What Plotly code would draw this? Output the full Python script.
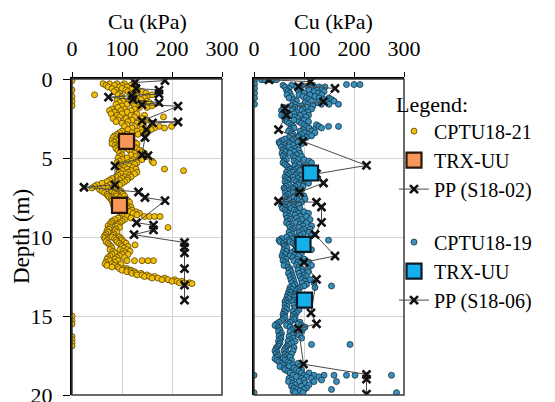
import plotly.graph_objects as go

# ---------------- data ----------------
# CPTU18-21 : one depth per row, several Cu readings per row (kPa)
cpt21_depth = [0.1, 0.7, 1.1, 1.4, 1.7,
               0.3, 0.4, 0.5, 0.6, 0.7, 0.8, 0.9, 1.0, 1.1, 1.2, 1.3, 1.4, 1.5, 1.6, 1.7, 1.8, 1.9,
               2.0, 2.1, 2.2, 2.3, 2.4, 2.5, 2.6, 2.7, 2.8, 2.9, 3.0, 3.1, 3.2, 3.3, 3.4, 3.5, 3.6,
               3.7, 3.8, 3.9, 4.0, 4.1, 4.2, 4.3, 4.4, 4.5, 4.6, 4.7, 4.8, 4.9, 5.0, 5.1, 5.2, 5.3,
               5.4, 5.5, 5.6, 5.7, 5.8, 5.9, 6.0, 6.1, 6.2, 6.3, 6.4, 6.5, 6.6, 6.7, 6.8, 6.9, 7.0,
               7.1, 7.2, 7.3, 7.4, 7.5, 7.6, 7.7, 7.8, 7.9, 8.0, 8.1, 8.2, 8.3, 8.4, 8.5, 8.6, 8.7,
               8.8, 8.9, 9.0, 9.1, 9.2, 9.3, 9.4, 9.5, 9.6, 9.7, 9.8, 9.9, 10.0, 10.1, 10.2, 10.3,
               10.4, 10.5, 10.6, 10.7, 10.8, 10.9, 11.0, 11.1, 11.2, 11.3, 11.4, 11.5, 11.6, 11.7,
               11.8, 11.9, 12.0, 12.1, 12.2, 12.3, 12.4, 12.5, 12.6, 12.7, 12.8, 12.9, 12.95,
               15.0, 15.3, 15.5, 16.3, 16.5, 16.7, 16.9]
cpt21_cu = [[0], [0], [0], [0], [0],
            [62, 75, 90, 105, 122], [68, 85, 100, 118], [72, 95, 110, 128], [80, 100, 120],
            [88, 108, 132], [84, 112, 140], [95, 125, 148], [45, 92, 118, 160], [100, 130, 150],
            [98, 122, 145], [90, 115, 138], [102, 128, 150], [95, 120, 155], [88, 110, 140],
            [100, 125, 160], [92, 135, 150], [80, 105, 125],
            [75, 98, 118], [85, 110], [78, 100, 130], [90, 118, 145], [95, 125, 183], [82, 108, 140],
            [92, 120, 150], [88, 112, 135], [100, 130, 160], [110, 140], [105, 125, 175, 199],
            [120, 145, 165, 185], [112, 138, 158], [100, 130, 150], [95, 120, 140], [90, 110, 132],
            [85, 105],
            [82, 100, 120], [88, 95], [80, 92], [84, 125], [80, 95, 130], [86, 100, 120],
            [90, 105, 125], [88, 110, 130], [92, 115, 135], [98, 120, 140], [95, 125, 145],
            [100, 118], [96, 128, 150], [92, 110, 135], [100, 122, 140], [95, 118, 160],
            [90, 112, 130, 163],
            [94, 108, 125], [98, 115], [92, 105, 122], [96, 110, 128, 185], [100, 118, 223],
            [94, 112, 130], [98, 108, 125], [92, 115], [88, 105, 118], [80, 100, 112], [75, 95, 110],
            [70, 90, 105], [60, 82, 100], [50, 75, 95], [45, 70, 88], [40, 62, 85], [55, 78, 92],
            [60, 80, 98], [65, 85, 100], [70, 88, 102], [72, 90, 105], [75, 95], [78, 92, 108],
            [80, 98, 112], [85, 100, 115], [82, 104], [88, 110], [84, 105, 118], [90, 112],
            [86, 108, 120], [95, 115, 128], [100, 122, 135], [105, 130],
            [110, 145, 155, 165, 176],
            [92, 118], [85, 105], [80, 100], [78, 96], [75, 92], [72, 90], [76, 95, 192], [74, 88],
            [70, 86], [72, 90], [68, 84], [66, 82], [64, 80, 95], [66, 85, 98], [70, 88, 100],
            [68, 90, 104],
            [72, 94, 108], [75, 98, 126], [78, 100, 112], [80, 104], [76, 96, 110], [82, 102, 116],
            [85, 106], [80, 100, 112], [76, 95], [72, 90, 105], [70, 86],
            [75, 92, 110, 125, 140, 152, 163], [68, 85], [66, 80, 98],
            [70, 84], [80, 92], [95, 104, 110], [100, 110, 118], [110, 118, 125], [120, 128, 138],
            [130, 140, 150], [145, 155, 165], [160, 172, 185], [180, 192, 205], [200, 210, 220],
            [215, 225, 235], [240],
            [0], [0], [0], [0], [0], [0], [0]]

# CPTU18-19
cpt19_depth = [0.05, 0.3, 0.6, 0.9, 1.2, 1.6,
               0.05, 0.35, 0.4, 0.5, 0.6, 0.7, 0.8, 0.9, 1.0, 1.1, 1.2, 1.3, 1.4, 1.5, 1.6, 1.7,
               1.8, 1.9, 2.0, 2.1, 2.2, 2.3, 2.4, 2.5, 2.6, 2.7, 2.8, 2.9, 3.0, 3.1, 3.2, 3.3, 3.4,
               3.5, 3.6, 3.7, 3.8, 3.9, 4.0, 4.1, 4.2, 4.3, 4.4, 4.5, 4.6, 4.7, 4.8, 4.9, 5.0, 5.1,
               5.2, 5.3, 5.4, 5.5, 5.6, 5.7, 5.8, 5.9, 6.0, 6.1, 6.2, 6.3, 6.4, 6.5, 6.6, 6.7, 6.8,
               6.9, 7.0, 7.1, 7.2, 7.3, 7.4, 7.5, 7.6, 7.7, 7.8, 7.9, 8.0, 8.1, 8.2, 8.3, 8.4, 8.5,
               8.6, 8.7, 8.8, 8.9, 9.0, 9.1, 9.2, 9.3, 9.4, 9.5, 9.6, 9.7, 9.8, 9.9, 10.0, 10.1,
               10.2, 10.3, 10.4, 10.5, 10.6, 10.7, 10.8, 10.9, 11.0, 11.1, 11.2, 11.3, 11.4, 11.5,
               11.6, 11.7, 11.8, 11.9, 12.0, 12.1, 12.2, 12.3, 12.4, 12.5, 12.6, 12.7, 12.8, 12.9,
               13.0, 13.1, 13.2, 13.3, 13.4, 13.5, 13.6, 13.7, 13.8, 13.9, 14.0, 14.1, 14.2, 14.3,
               14.4, 14.5, 14.6, 14.7, 14.8, 14.9, 15.0, 15.1, 15.2, 15.3, 15.4, 15.5, 15.6, 15.7,
               15.8, 15.9, 16.0, 16.1, 16.2, 16.3, 16.4, 16.5, 16.6, 16.7, 16.8, 16.9, 17.0, 17.1,
               17.2, 17.3, 17.4, 17.5, 17.6, 17.7, 17.8, 17.9, 18.0, 18.1, 18.2, 18.3, 18.4, 18.5,
               18.6, 18.75, 18.85, 18.95, 19.05, 19.15, 19.25, 19.35, 19.45, 19.55, 19.65, 19.75,
               19.85]
cpt19_cu = [[1], [1], [1], [1], [1], [1],
            [15, 22, 30, 38, 45], [185, 200, 212], [58, 75, 95, 118], [62, 85, 108, 130, 142],
            [70, 92, 115, 135], [65, 88, 110, 125], [68, 95, 120, 140], [72, 100, 128],
            [66, 90, 112, 135], [75, 98, 122], [70, 105, 130, 150], [80, 110, 140, 155],
            [85, 115, 145, 160], [78, 102, 128], [82, 108, 135, 150, 169], [75, 95, 118],
            [60, 82, 105], [58, 78, 98, 115], [55, 75, 95], [62, 85, 108], [58, 80, 100],
            [55, 72, 92, 109], [60, 82, 104], [64, 88], [62, 80, 100], [66, 90, 109], [70, 95],
            [75, 100, 125], [78, 105, 130, 149, 169], [80, 110, 135], [72, 98, 120],
            [69, 92, 115], [75, 100, 122],
            [78, 95, 110], [75, 90, 115], [70, 88, 105], [62, 80, 98], [55, 75, 92], [50, 70, 88],
            [52, 72, 95], [58, 78], [55, 70, 88], [60, 82], [58, 75, 89], [62, 80], [56, 72, 92],
            [60, 85], [58, 78, 95], [62, 82], [65, 88, 100],
            [60, 80, 110], [58, 85, 115], [62, 90], [66, 82, 100], [70, 88], [72, 85],
            [68, 80, 92], [65, 78], [70, 85], [66, 82, 95], [62, 78], [65, 88], [68, 80, 95],
            [62, 85, 105], [66, 90, 109], [70, 88], [64, 82, 98],
            [60, 78], [62, 80, 95], [66, 85], [63, 78, 92], [68, 88], [64, 82, 100], [62, 80],
            [66, 86, 102], [70, 90], [64, 78, 95], [58, 75], [55, 72, 90], [60, 78], [57, 74, 92],
            [62, 80], [65, 85, 100], [68, 88, 109],
            [64, 82], [70, 92, 105], [66, 85], [72, 95, 112], [68, 88], [65, 84, 105], [70, 92],
            [75, 98, 115], [72, 90], [78, 100, 112], [74, 95], [70, 90, 110], [76, 98],
            [72, 92, 115], [65, 85], [55, 75, 89],
            [50, 70, 149], [52, 72, 88], [58, 78], [60, 82], [62, 85, 105], [66, 90], [60, 88, 115],
            [64, 80], [58, 75, 95], [62, 82], [56, 72, 89], [60, 78], [64, 85, 100], [58, 80],
            [62, 88, 110], [66, 92], [60, 85, 115], [68, 90], [72, 95, 108], [70, 88],
            [74, 96, 109], [69, 90], [76, 100], [72, 92, 105], [78, 98], [74, 95, 112], [80, 102],
            [76, 96, 120],
            [82, 105], [78, 100, 155], [72, 92, 122], [75, 88], [70, 85], [72, 89], [68, 84],
            [70, 86], [66, 82], [69, 89], [64, 80], [62, 78], [65, 85], [62, 80, 95],
            [66, 88], [62, 82], [65, 90], [60, 78], [62, 85], [58, 80], [60, 78], [62, 82],
            [58, 80], [55, 75], [50, 72, 92], [45, 68, 88], [42, 65, 95], [48, 72, 102],
            [50, 78, 98], [52, 75], [49, 72, 95], [55, 80], [52, 76, 90], [50, 70],
            [54, 78, 95], [52, 72], [49, 68, 82], [52, 75], [50, 70, 115, 192], [48, 66],
            [45, 64, 80], [44, 62],
            [42, 60, 78], [46, 65], [44, 62, 75], [48, 66], [45, 60, 72], [42, 58], [46, 62, 75],
            [50, 68], [55, 72, 88], [58, 76], [52, 70, 92], [60, 80], [62, 85, 95], [68, 90],
            [72, 95, 110], [0, 78, 100, 120, 140, 160, 185, 202, 275], [85, 105, 130],
            [70, 95, 115], [75, 100, 135], [69, 90, 120, 165], [78, 102], [82, 110], [75, 95],
            [80, 105], [85, 100, 155], [78, 92], [0, 82, 98, 285]]

# Triaxial UU tests
trx21_depth = [3.95, 8.0]
trx21_cu = [109, 95]
trx19_depth = [5.95, 10.47, 14.0]
trx19_cu = [113, 98, 101]

# Pocket penetrometer
pp02_depth = [0.1, 0.22, 0.6, 0.7, 0.95, 1.05, 1.15, 1.3, 1.5, 1.62, 1.72, 2.65, 2.72, 2.78,
              3.2, 3.7, 4.8, 4.85, 5.5, 6.7, 6.85, 7.15, 7.5, 7.7, 9.1, 9.25, 9.55, 9.85,
              10.35, 10.65, 11.0, 12.0, 13.05, 14.0]
pp02_cu = [186, 126, 128, 174, 174, 120, 73, 122, 174, 140, 212, 140, 212, 161,
           149, 146, 140, 152, 86, 86, 24, 133, 146, 186, 129, 163, 163, 124,
           225, 225, 225, 225, 225, 225]
pp06_depth = [0.05, 0.17, 0.48, 0.59, 1.43, 1.85, 2.27, 3.2, 3.95, 5.47, 6.0, 6.58, 7.17,
              7.74, 7.8, 8.1, 9.07, 9.84, 11.2, 11.6, 12.68, 14.8, 15.5, 15.8, 18.05, 18.7,
              19.0, 19.94]
pp06_cu = [30, 113, 89, 162, 139, 62, 65, 49, 98, 225, 125, 139, 91,
           49, 125, 135, 135, 122, 162, 100, 125, 114, 125, 89, 99, 225,
           225, 225]

cu_ticks = [0, 100, 200, 300]
depth_ticks = [0, 5, 10, 15, 20]


def flatten(depths, cus):
    xs, ys = [], []
    for d, row in zip(depths, cus):
        for c in row:
            xs.append(c)
            ys.append(d)
    return xs, ys


c21_x, c21_y = flatten(cpt21_depth, cpt21_cu)
c19_x, c19_y = flatten(cpt19_depth, cpt19_cu)

FONT = "Times New Roman, Liberation Serif, serif"

fig = go.Figure()

# ---- left panel ----
fig.add_trace(go.Scatter(x=c21_x, y=c21_y, mode="markers", name="CPTU18-21",
                         legendgroup="g1", legendrank=1, xaxis="x", yaxis="y",
                         marker=dict(size=6, color="#F2BE0C",
                                     line=dict(color="#5C4700", width=0.8))))
fig.add_trace(go.Scatter(x=pp02_cu, y=pp02_depth, mode="lines+markers", name="PP (S18-02)",
                         legendgroup="g1", legendrank=3, xaxis="x", yaxis="y",
                         line=dict(color="#4a4a4a", width=1),
                         marker=dict(symbol="x-thin", size=8, color="#111",
                                     line=dict(color="#111", width=2.6))))
fig.add_trace(go.Scatter(x=trx21_cu, y=trx21_depth, mode="markers", name="TRX-UU",
                         legendgroup="g1", legendrank=2, xaxis="x", yaxis="y",
                         marker=dict(symbol="square", size=15, color="#F7985A",
                                     line=dict(color="#2a1608", width=2.2))))

# ---- right panel ----
fig.add_trace(go.Scatter(x=c19_x, y=c19_y, mode="markers", name="CPTU18-19",
                         legendgroup="g2", legendrank=4, xaxis="x2", yaxis="y2",
                         marker=dict(size=6, color="#3A90B8",
                                     line=dict(color="#12324A", width=0.8))))
fig.add_trace(go.Scatter(x=pp06_cu, y=pp06_depth, mode="lines+markers", name="PP (S18-06)",
                         legendgroup="g2", legendrank=6, xaxis="x2", yaxis="y2",
                         line=dict(color="#4a4a4a", width=1),
                         marker=dict(symbol="x-thin", size=8, color="#111",
                                     line=dict(color="#111", width=2.6))))
fig.add_trace(go.Scatter(x=trx19_cu, y=trx19_depth, mode="markers", name="TRX-UU",
                         legendgroup="g2", legendrank=5, xaxis="x2", yaxis="y2",
                         marker=dict(symbol="square", size=15, color="#14B0EC",
                                     line=dict(color="#0a1a26", width=2.2))))

W, H = 555, 402
ytop, ybot = 79, 395
ydom = [1 - ybot / H, 1 - ytop / H]

xcommon = dict(range=[0, 300], side="top", tickvals=cu_ticks, ticks="outside", ticklen=5,
               tickcolor="black", showline=True, linecolor="black", linewidth=2,
               showgrid=True, gridcolor="#d4d4d4", gridwidth=1, zeroline=False,
               automargin=False, ticklabeloverflow="allow",
               tickfont=dict(family=FONT, size=22, color="black"), ticklabelstandoff=7)
ycommon = dict(range=[20, 0], tickvals=depth_ticks, showline=True, linecolor="black",
               linewidth=2, showgrid=True, gridcolor="#d4d4d4", gridwidth=1, zeroline=False,
               automargin=False, ticklabeloverflow="allow",
               tickfont=dict(family=FONT, size=22, color="black"))

fig.update_layout(
    width=W, height=H,
    margin=dict(l=0, r=0, t=0, b=0, pad=0),
    paper_bgcolor="white", plot_bgcolor="white",
    font=dict(family=FONT, size=21, color="black"),
    xaxis=dict(domain=[72 / W, 222 / W], anchor="y", **xcommon),
    yaxis=dict(domain=ydom, anchor="x", ticks="outside", ticklen=7, tickcolor="black",
               ticklabelstandoff=6, **ycommon),
    xaxis2=dict(domain=[254 / W, 404 / W], anchor="y2", **xcommon),
    yaxis2=dict(domain=ydom, anchor="x2", showticklabels=False, ticks="", **ycommon),
    legend=dict(x=394 / W, y=1 - 83 / H, xanchor="left", yanchor="top",
                title=dict(text="Legend:", font=dict(family=FONT, size=22)),
                font=dict(family=FONT, size=20), tracegroupgap=24,
                bgcolor="rgba(0,0,0,0)", itemwidth=30, borderwidth=0),
    showlegend=True,
)

# frame (right / bottom edges)
for xr, yr in (("x domain", "y domain"), ("x2 domain", "y2 domain")):
    fig.add_shape(type="rect", xref=xr, yref=yr, x0=0, x1=1, y0=0, y1=1,
                  line=dict(color="#3a3a3a", width=1.5), layer="above")

# axis titles
fig.add_annotation(text="Cu (kPa)", xref="x domain", yref="paper", x=0.5, y=1 - 21 / H,
                   showarrow=False, font=dict(family=FONT, size=22), yanchor="middle")
fig.add_annotation(text="Cu (kPa)", xref="x2 domain", yref="paper", x=0.53, y=1 - 21 / H,
                   showarrow=False, font=dict(family=FONT, size=22), yanchor="middle")
fig.add_annotation(text="Depth (m)", xref="paper", yref="y domain", x=21 / W, y=0.5,
                   textangle=-90, showarrow=False, font=dict(family=FONT, size=23),
                   xanchor="center", yanchor="middle")

fig.write_html("out.html", config={"displayModeBar": False},
               post_script="document.body.style.margin='0';document.body.style.padding='0';")
